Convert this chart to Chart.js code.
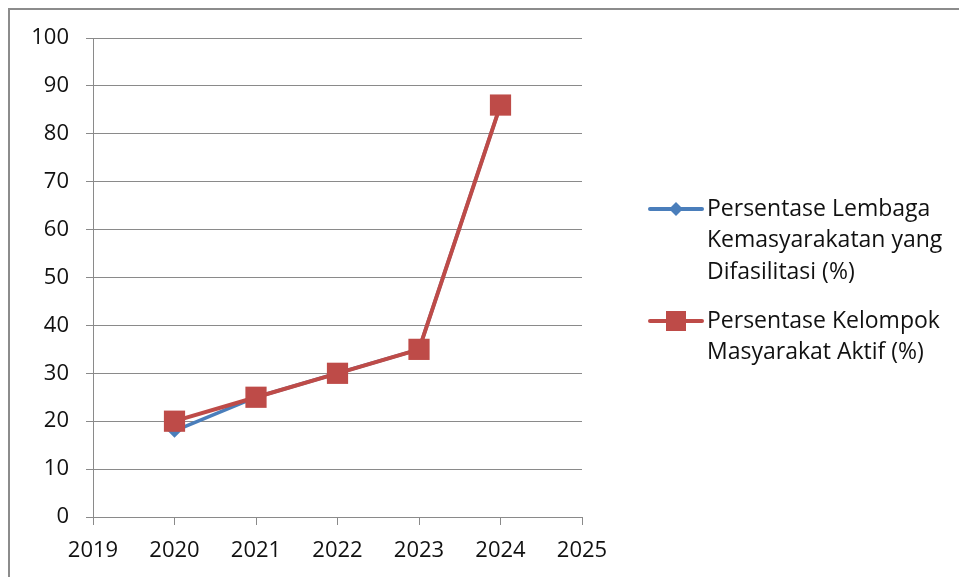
<!DOCTYPE html>
<html>
<head>
<meta charset="utf-8">
<script src="https://cdn.jsdelivr.net/npm/chart.js@4.4.0/dist/chart.umd.js"></script>
<style>
  html, body { margin: 0; padding: 0; background: #fff; overflow: hidden; }
  #frame { position: absolute; left: 8px; top: 8px; width: 1000px; height: 1000px; border: 2px solid #8c8c8c; }
  #wrap { position: absolute; left: 0; top: 0; width: 959px; height: 577px; }
</style>
</head>
<body>
<div id="frame"></div>
<div id="wrap"><canvas id="lineChart" width="959" height="577"></canvas></div>
<script>
// Data
const years = [2020, 2021, 2022, 2023, 2024];
const lembaga = [18, 25, 30, 35, 86];
const kelompok = [20, 25, 30, 35, 86];
const legendLembaga = ['Persentase Lembaga', 'Kemasyarakatan yang', 'Difasilitasi (%)'];
const legendKelompok = ['Persentase Kelompok', 'Masyarakat Aktif (%)'];
const xMin = 2019, xMax = 2025;
const yMin = 0, yMax = 100, yStep = 10;

const fontFamily = "'Open Sans', sans-serif";
const fontSize = 22;
const legendFontSize = 23;
const gridColor = '#8a8a8a';
const textColor = '#111';
const blue = '#4a7ebb';
const red = '#be4b48';

// Excel-like legend drawn at the right side
const sideLegend = {
    id: 'sideLegend',
    afterDraw(chart) {
        const ctx = chart.ctx;
        const entries = [
            { lines: legendLembaga, color: blue, shape: 'diamond', y: 209 },
            { lines: legendKelompok, color: red, shape: 'square', y: 321 }
        ];
        ctx.save();
        ctx.font = legendFontSize + 'px ' + fontFamily;
        ctx.textBaseline = 'middle';
        ctx.fillStyle = textColor;
        entries.forEach(e => {
            ctx.strokeStyle = e.color;
            ctx.lineWidth = 4;
            ctx.lineCap = 'round';
            ctx.beginPath();
            ctx.moveTo(650, e.y);
            ctx.lineTo(702, e.y);
            ctx.stroke();
            ctx.fillStyle = e.color;
            ctx.beginPath();
            if (e.shape === 'diamond') {
                ctx.moveTo(676, e.y - 7);
                ctx.lineTo(683, e.y);
                ctx.lineTo(676, e.y + 7);
                ctx.lineTo(669, e.y);
                ctx.closePath();
            } else {
                ctx.rect(666, e.y - 10, 20, 20);
            }
            ctx.fill();
            ctx.fillStyle = textColor;
            e.lines.forEach((t, i) => {
                ctx.fillText(t, 707, e.y + i * 31.5);
            });
        });
        ctx.restore();
    }
};

new Chart(document.getElementById('lineChart'), {
    type: 'line',
    data: {
        datasets: [
            {
                label: legendLembaga.join(' '),
                data: years.map((y, i) => ({ x: y, y: lembaga[i] })),
                borderColor: blue,
                backgroundColor: blue,
                borderWidth: 3.5,
                pointStyle: 'rectRot',
                pointRadius: 7,
                pointBorderWidth: 0,
                tension: 0,
                order: 2
            },
            {
                label: legendKelompok.join(' '),
                data: years.map((y, i) => ({ x: y, y: kelompok[i] })),
                borderColor: red,
                backgroundColor: red,
                borderWidth: 4,
                pointStyle: 'rect',
                pointRadius: 15,
                pointBorderWidth: 0,
                tension: 0,
                order: 1
            }
        ]
    },
    options: {
        responsive: false,
        animation: false,
        layout: { padding: { left: 0, top: 38, right: 377, bottom: 0 } },
        plugins: {
            legend: { display: false },
            tooltip: { enabled: false }
        },
        scales: {
            x: {
                type: 'linear',
                min: xMin,
                max: xMax,
                afterFit(scale) { scale.height = 60; },
                ticks: {
                    stepSize: 1,
                    color: textColor,
                    padding: 13,
                    font: { family: fontFamily, size: fontSize },
                    callback: v => String(v)
                },
                grid: {
                    drawOnChartArea: false,
                    drawTicks: true,
                    tickLength: 8,
                    color: gridColor
                },
                border: { color: gridColor, width: 1 }
            },
            y: {
                min: yMin,
                max: yMax,
                afterFit(scale) { scale.width = 93; },
                ticks: {
                    stepSize: yStep,
                    color: textColor,
                    padding: 17,
                    font: { family: fontFamily, size: fontSize }
                },
                grid: {
                    color: gridColor,
                    tickLength: 7,
                    drawTicks: true
                },
                border: { color: gridColor, width: 1 }
            }
        }
    },
    plugins: [sideLegend]
});
</script>
</body>
</html>
